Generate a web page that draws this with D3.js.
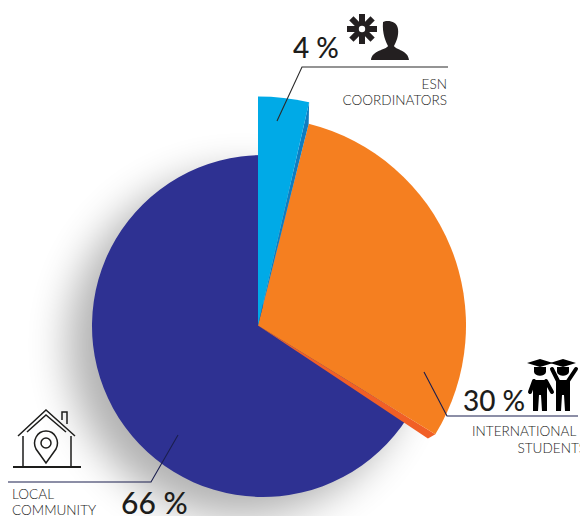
<!DOCTYPE html>
<html><head><meta charset="utf-8">
<script src="https://cdn.jsdelivr.net/npm/d3@7"></script>
<style>html,body{margin:0;padding:0;background:#fff;overflow:hidden}svg{display:block}text{font-family:Lato,sans-serif;fill:#1d1d1b}</style>
</head><body><svg id="c" width="580" height="516"></svg>
<script>
const categories = ["ESN COORDINATORS", "INTERNATIONAL STUDENTS", "LOCAL COMMUNITY"];
const values = [4, 30, 66];
const valueLabels = ["4 %", "30 %", "66 %"];
const colors = ["#00aae7", "#f57f20", "#2e3192"];
const edgeColors = ["#0f7cc0", "#f15f26"];

const svg = d3.select("#c");
const defs = svg.append("defs");
defs.append("filter").attr("id","sh").attr("x","-40%").attr("y","-40%").attr("width","180%").attr("height","180%")
  .append("feGaussianBlur").attr("stdDeviation",20);

const apex = [258,325.5];
const radius = d3.scaleOrdinal().domain(categories).range([229,208,171]);
const pie = d3.pie().sort(null).value(d=>d.v).startAngle(0).endAngle(2*Math.PI);
const arcs = pie(categories.map((c,i)=>({c,v:values[i],i})));
const pt = (a,r)=>[apex[0]+r*Math.sin(a),apex[1]-r*Math.cos(a)];
const arc = d3.arc().innerRadius(0);

// soft shadow
svg.append("circle").attr("cx",240).attr("cy",345).attr("r",172).attr("fill","#000").attr("opacity",.3).attr("filter","url(#sh)");

// community wedge (its circle sits slightly right of the shared apex)
const [esn,intl,loc] = arcs;
svg.append("path").attr("transform","translate(263,326)").attr("fill",colors[2])
  .attr("d",arc.outerRadius(radius(categories[2]))(loc));

// international: side edge then face
const d2r = Math.PI/180;
const faceEnd = intl.endAngle - 0.9*d2r;
const rI = radius(categories[1]);
svg.append("path").attr("fill",edgeColors[1])
  .attr("d","M"+[apex,pt(faceEnd,rI),pt(intl.endAngle+1.2*d2r,rI-4)].map(p=>p.join(",")).join("L")+"Z");
svg.append("path").attr("transform",`translate(${apex})`).attr("fill",colors[1])
  .attr("d",arc.outerRadius(rI)({startAngle:intl.startAngle-0.3*d2r,endAngle:faceEnd}));

// coordinators: side edge then face
const rE = radius(categories[0]);
const eFace = esn.endAngle - 1.5*d2r;
svg.append("path").attr("fill",edgeColors[0])
  .attr("d","M"+[apex,pt(eFace,rE),pt(intl.startAngle-0.3*d2r,rI)].map(p=>p.join(",")).join("L")+"Z");
svg.append("path").attr("transform",`translate(${apex})`).attr("fill",colors[0])
  .attr("d",arc.outerRadius(rE)({startAngle:esn.startAngle,endAngle:eFace}));

// leader lines
const leader=(pts,col)=>svg.append("polyline").attr("points",pts.join(" ")).attr("fill","none").attr("stroke",col).attr("stroke-width",1.1);
leader([[277,121],[302,67],[448,67]],"#2b2b2b");
leader([[424,372],[447,416],[578,416]],"#1b1f4f");
leader([[178,435],[151,482],[8,482]],"#1b1f4f");

// texts
const big=(t,x,y,s)=>svg.append("text").attr("x",x).attr("y",y).attr("font-size",s).attr("font-weight",500).text(t);
big(valueLabels[0],293,58,28);
big(valueLabels[1],463,411,28);
big(valueLabels[2],121,514,30);
const small=(t,x,y,a)=>svg.append("text").attr("x",x).attr("y",y).attr("font-size",13.6).attr("font-weight",300).attr("text-anchor",a||"start").text(t);
const [e1,e2]=categories[0].split(" "),[i1,i2]=categories[1].split(" "),[l1,l2]=categories[2].split(" ");
small(e1,447,89,"end"); small(e2,447,105,"end");
small(i1,472,436); small(i2,586,453,"end");
small(l1,12,499); small(l2,12,515);

// asterisk + person
const ic=svg.append("g").attr("fill","#231f20");
const ast=svg.append("g").attr("transform","translate(362,29)");
d3.range(8).forEach(k=>ast.append("rect").attr("x",-3).attr("y",-15).attr("width",6).attr("height",15).attr("fill","#231f20").attr("transform",`rotate(${k*45})`));
ast.append("circle").attr("r",3.2).attr("fill","#fff");
ic.append("path").attr("d","M383,22C386,20 397,20 398,29C399,36 396,42 394,46C396,50 408,50 409,60L371,60C372,50 386,50 388,46C386,42 382,34 383,22Z");

// students
const st=svg.append("g").attr("stroke","#000").attr("fill","none").attr("stroke-linecap","round").attr("stroke-linejoin","round");
const cap=(x)=>{svg.append("path").attr("d",`M${x-13},363L${x},359L${x+13},363L${x},367Z`).attr("fill","#000");
 svg.append("path").attr("d",`M${x-6},367L${x+6},367L${x+6},372C${x+5},377 ${x-5},377 ${x-6},372Z`).attr("fill","#000");};
cap(540);cap(563);
svg.append("path").attr("fill","#000").attr("d","M533,380L547,380L547,411L542,411L541,395L539,395L538,411L533,411Z");
svg.append("path").attr("fill","#000").attr("d","M556,380L570,380L570,411L565,411L564,395L562,395L561,411L556,411Z");
st.append("path").attr("stroke-width",4).attr("d","M534,381L530,392M546,381L552,392");
st.append("path").attr("stroke-width",4).attr("d","M558,381L552,369M568,381L576,369");

// house
const h=svg.append("g").attr("stroke","#1d1d1b").attr("fill","none").attr("stroke-width",1.5);
h.append("path").attr("d","M18,436L46,410L75,436");
h.append("path").attr("d","M27,432L46,415L66,432");
h.append("path").attr("d","M62,420L62,412L67,412L67,424");
h.append("path").attr("d","M23,436L23,467M71,436L71,467");
h.append("path").attr("d","M13,467L81,467").attr("stroke-width",2);
h.append("path").attr("d","M46,463L36,449C32,441 37,431 46,431C55,431 60,441 56,449Z");
h.append("circle").attr("cx",46).attr("cy",443).attr("r",5);
</script></body></html>
